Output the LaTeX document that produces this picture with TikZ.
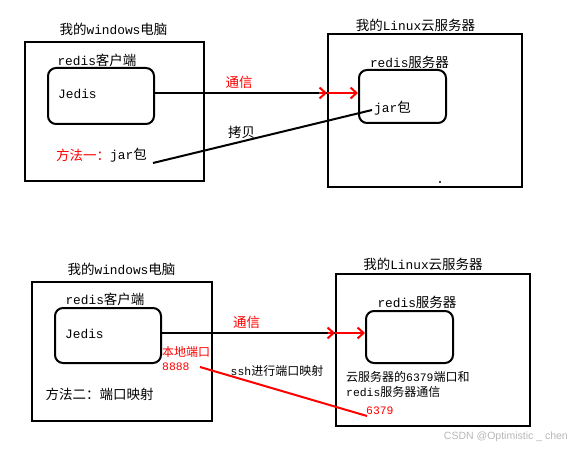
\documentclass[tikz,border=0pt]{standalone}
\usepackage{fontspec}
\setmainfont{Liberation Mono}[Scale=0.95]
\newfontfamily\cjk{Noto Sans CJK SC}
\newfontfamily\wmfont{Liberation Sans}
\usetikzlibrary{arrows.meta}
\begin{document}
\begin{tikzpicture}[x=1pt,y=-1pt,
  box/.style={draw, line width=2pt, inner sep=0pt},
  rbox/.style={draw, line width=2pt, rounded corners=8pt, inner sep=0pt},
  lbl/.style={inner sep=0pt, font=\fontsize{13.5}{15}\selectfont},
  slbl/.style={inner sep=0pt, font=\fontsize{12}{13}\selectfont},
  conn/.style={line width=2pt},
  redarr/.style={line width=2pt, red, -{Straight Barb[length=6pt,width=11pt]}},
  redline/.style={line width=2pt, red}]
\fill[white] (0,0) rectangle (573,449);
\useasboundingbox (0,0) rectangle (573,449);

% ---------- top diagram ----------
\node[box, minimum width=179pt, minimum height=139pt] (win1) at (114.5,111.5) {};
\node[rbox, minimum width=106pt, minimum height=56pt] (cli1) at (101,96) {};
\node[box, minimum width=194pt, minimum height=153pt] (srv1) at (425,110.5) {};
\node[rbox, minimum width=87pt, minimum height=53pt] (rs1) at (402.5,96.5) {};

\node[lbl] (t1win) at (113.5,29) {{\cjk 我的}windows{\cjk 电脑}};
\node[lbl] (t1srv) at (415.5,25) {{\cjk 我的}Linux{\cjk 云服务器}};
\node[lbl] (t1cli) at (97,60) {redis{\cjk 客户端}};
\node[lbl, anchor=west] (jedis1) at (58,94) {Jedis};
\node[lbl] (t1rs) at (409.5,62) {redis{\cjk 服务器}};
\node[lbl, text=red] (tx1) at (239,82) {\cjk 通信};
\node[lbl] (copy1) at (241.5,132) {\cjk 拷贝};
\node[lbl, anchor=west, text=red] (m1) at (56,155) {\cjk 方法一：};
\node[lbl, anchor=west] (jarA) at (110,155) {jar{\cjk 包}};
\node[lbl, anchor=west] (jarB) at (374,108) {jar{\cjk 包}};
\fill (440,182) circle (1.2pt);

\coordinate (h1) at (0,93);
\coordinate (r1s) at (319,93);
\draw[conn] (cli1.east |- h1) -- (srv1.west |- h1);
\draw[redarr] (r1s) -- (srv1.west |- h1);
\draw[redarr] (srv1.west |- h1) -- (rs1.west |- h1);
\coordinate (c1) at (153,163);
\coordinate (c2) at (372,110);
\draw[conn] (c1) -- (c2);

% ---------- bottom diagram ----------
\node[box, minimum width=180pt, minimum height=139pt] (win2) at (122,351.5) {};
\node[rbox, minimum width=106pt, minimum height=55pt] (cli2) at (108,335.5) {};
\node[box, minimum width=194pt, minimum height=152pt] (srv2) at (433,350) {};
\node[rbox, minimum width=87pt, minimum height=52pt] (rs2) at (409.5,337) {};

\node[lbl] (t2win) at (121.5,269) {{\cjk 我的}windows{\cjk 电脑}};
\node[lbl] (t2srv) at (423,264) {{\cjk 我的}Linux{\cjk 云服务器}};
\node[lbl] (t2cli) at (105,299) {redis{\cjk 客户端}};
\node[lbl, anchor=west] (jedis2) at (65,334) {Jedis};
\node[lbl] (t2rs) at (417,302) {redis{\cjk 服务器}};
\node[lbl, text=red] (tx2) at (246.5,322) {\cjk 通信};
\node[slbl, anchor=west, text=red] (loc) at (162,352) {\cjk 本地端口};
\node[slbl, anchor=west, text=red] (p8888) at (162,367) {8888};
\node[lbl] (m2) at (99.5,394) {\cjk 方法二：端口映射};
\node[slbl] (ssh) at (277,371) {ssh{\cjk 进行端口映射}};
\node[slbl, anchor=west] (d1) at (346,377) {{\cjk 云服务器的}6379{\cjk 端口和}};
\node[slbl, anchor=west] (d2) at (346,392) {redis{\cjk 服务器通信}};
\node[slbl, anchor=west, text=red] (p6379) at (366,411) {6379};

\coordinate (h2) at (0,333);
\coordinate (r2s) at (328,333);
\draw[conn] (cli2.east |- h2) -- (srv2.west |- h2);
\draw[redarr] (r2s) -- (srv2.west |- h2);
\draw[redarr] (srv2.west |- h2) -- (rs2.west |- h2);
\coordinate (s1) at (200,367);
\coordinate (s2) at (367,416);
\draw[redline] (s1) -- (s2);

\node[inner sep=0pt, anchor=east, text=black!28, font=\wmfont\fontsize{10.5}{12}\selectfont] (wm) at (568,437) {CSDN @Optimistic \_ chen};
\end{tikzpicture}
\end{document}
